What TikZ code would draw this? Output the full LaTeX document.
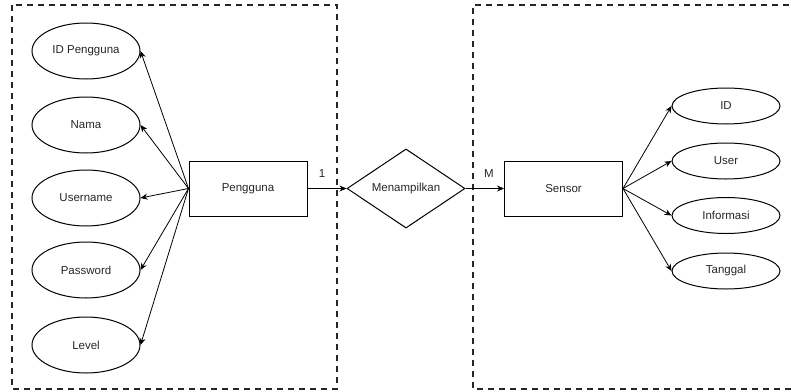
\documentclass[tikz,border=0pt]{standalone}
\usepackage{fontspec}
\setmainfont{Liberation Sans}
\usetikzlibrary{shapes.geometric,arrows.meta}

\tikzset{
  lbl/.style={font=\fontsize{11.5}{13}\selectfont, text=black!85},
  entity/.style={draw, line width=1pt, minimum width=118pt, minimum height=55pt, inner sep=0pt, lbl},
  attrL/.style={draw, ellipse, line width=1pt, minimum width=108pt, minimum height=56pt, inner sep=0pt, lbl},
  attrR/.style={draw, ellipse, line width=1pt, minimum width=108pt, minimum height=36pt, inner sep=0pt, lbl},
  relation/.style={draw, diamond, line width=1pt, minimum width=118pt, minimum height=73pt, inner sep=0pt, lbl},
  link/.style={line width=0.8pt, -{Stealth[length=7pt,width=6pt]}},
  group/.style={line width=2pt, dash pattern=on 6pt off 5pt, black!85}
}

\begin{document}
\begin{tikzpicture}[x=1pt, y=-1pt]
  \useasboundingbox (0,0) rectangle (791,391);

  % grouping frames
  \draw[group] (12,5) rectangle (337,389);
  \draw[group] (800,5) -- (473,5) -- (473,389) -- (800,389);

  % entities and relationship
  \node[entity] (peng) at (248,188.5) {Pengguna};
  \node[relation] (rel) at (406,188.5) {Menampilkan};
  \node[entity] (sens) at (563.5,188.5) {Sensor};

  % attributes of Pengguna
  \node[attrL] (aid)   at (86,51)  {ID Pengguna};
  \node[attrL] (anama) at (86,125) {Nama};
  \node[attrL] (auser) at (86,198) {Username};
  \node[attrL] (apass) at (86,270) {Password};
  \node[attrL] (alvl)  at (86,345) {Level};

  % attributes of Sensor
  \node[attrR] (sid)   at (726,106) {ID};
  \node[attrR] (suser) at (726,161) {User};
  \node[attrR] (sinfo) at (726,215.5) {Informasi};
  \node[attrR] (stgl)  at (726,271) {Tanggal};

  % attribute links
  \foreach \a in {aid,anama,auser,apass,alvl}
    \draw[link] (peng.west) -- (\a.east);
  \foreach \a in {sid,suser,sinfo,stgl}
    \draw[link] (sens.east) -- (\a.west);

  % relationship links with cardinalities
  \draw[link] (peng.east) -- (rel.west);
  \draw[link] (rel.east) -- (sens.west);
  \node[lbl] (c1) at (322,174) {1};
  \node[lbl] (cm) at (489,174) {M};
\end{tikzpicture}
\end{document}
